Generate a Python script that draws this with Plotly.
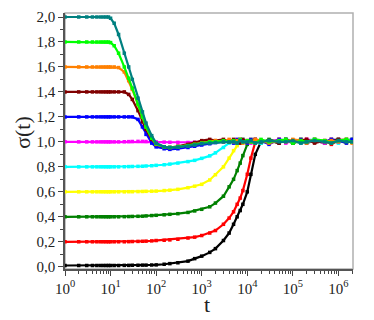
import plotly.graph_objects as go

# time points (shared by all runs)
t = [1, 2, 3, 4, 5, 6, 7, 8, 9, 10,
     12, 15, 20, 25, 30, 40, 50, 60, 80, 100,
     150, 200, 300, 500, 700, 1000, 1500, 2000, 3000, 4000,
     5000, 6000, 7000, 8000, 1e4, 1.2e4, 1.5e4, 2e4, 3e4, 5e4,
     7e4, 1e5, 1.5e5, 2e5, 3e5, 5e5, 7e5, 1e6, 1.5e6, 2e6]

s00 = [0.01] * 10 + [
    0.01, 0.01, 0.011, 0.011, 0.012, 0.012, 0.013, 0.013, 0.014, 0.015,
    0.02, 0.025, 0.032, 0.045, 0.065, 0.085, 0.115, 0.145, 0.21, 0.27,
    0.34, 0.40, 0.45, 0.50, 0.60, 0.74, 0.90, 1.0, 1.01, 0.99,
    1.02, 0.99, 1.01, 1.0, 1.02, 0.99, 1.01, 1.02, 1.0, 1.01]
s02 = [0.2] * 10 + [
    0.2, 0.2, 0.2, 0.201, 0.202, 0.203, 0.204, 0.205, 0.207, 0.21,
    0.212, 0.215, 0.22, 0.23, 0.237, 0.25, 0.27, 0.29, 0.34, 0.39,
    0.44, 0.50, 0.55, 0.61, 0.74, 0.87, 1.0, 1.01, 0.99, 1.02,
    1.0, 1.01, 0.99, 1.02, 1.0, 1.01, 0.98, 1.01, 1.02, 1.0]
s04 = [0.4] * 10 + [
    0.4, 0.4, 0.401, 0.402, 0.403, 0.404, 0.405, 0.407, 0.41, 0.412,
    0.416, 0.42, 0.425, 0.435, 0.447, 0.46, 0.48, 0.51, 0.565, 0.64,
    0.70, 0.77, 0.83, 0.89, 0.98, 1.0, 1.01, 0.99, 1.02, 1.0,
    1.01, 0.99, 1.02, 1.0, 1.01, 0.99, 1.02, 1.0, 1.01, 1.02]
s06 = [0.6] * 10 + [
    0.6, 0.6, 0.6, 0.601, 0.601, 0.602, 0.603, 0.604, 0.605, 0.606,
    0.61, 0.613, 0.62, 0.633, 0.645, 0.66, 0.695, 0.737, 0.80, 0.87,
    0.93, 0.97, 1.0, 1.01, 0.99, 1.02, 1.0, 1.01, 0.99, 1.02,
    1.0, 1.01, 1.02, 0.99, 1.01, 1.0, 1.02, 1.01, 0.99, 1.01]
s08 = [0.8] * 10 + [
    0.8, 0.8, 0.801, 0.802, 0.803, 0.804, 0.805, 0.807, 0.809, 0.812,
    0.817, 0.822, 0.83, 0.842, 0.852, 0.868, 0.888, 0.912, 0.955, 0.99,
    1.0, 1.01, 0.99, 1.02, 1.0, 1.01, 1.02, 0.99, 1.01, 1.0,
    1.02, 1.01, 0.99, 1.01, 1.02, 1.0, 1.01, 0.99, 1.02, 1.01]
s10 = [1.0] * 10 + [
    1.0, 1.0, 1.001, 1.002, 1.003, 1.004, 1.004, 1.003, 1.002, 1.0,
    0.998, 0.997, 0.996, 0.995, 0.997, 1.0, 1.003, 1.005, 1.01, 1.0,
    1.01, 0.99, 1.02, 1.0, 1.01, 0.99, 1.02, 1.01, 1.0, 1.02,
    0.99, 1.01, 1.0, 1.02, 1.01, 0.99, 1.02, 1.0, 1.01, 1.0]
s12 = [1.2] * 10 + [
    1.2, 1.2, 1.2, 1.2, 1.2, 1.18, 1.12, 1.06, 0.99, 0.96,
    0.945, 0.94, 0.945, 0.955, 0.965, 0.975, 0.985, 0.995, 1.0, 1.01,
    0.99, 1.02, 1.0, 1.01, 0.99, 1.02, 1.0, 1.01, 0.98, 1.02,
    1.01, 1.0, 1.02, 0.99, 1.01, 1.0, 1.02, 1.01, 0.99, 1.02]
s14 = [1.4] * 10 + [
    1.4, 1.4, 1.4, 1.38, 1.34, 1.25, 1.16, 1.10, 1.02, 0.98,
    0.96, 0.955, 0.965, 0.98, 0.995, 1.01, 1.02, 1.01, 1.02, 1.0,
    1.02, 1.01, 0.99, 1.02, 1.0, 1.01, 1.02, 1.0, 1.01, 0.99,
    1.02, 1.0, 1.01, 1.02, 0.99, 1.01, 1.0, 1.02, 1.01, 1.0]
s16 = [1.6] * 10 + [
    1.6, 1.595, 1.56, 1.49, 1.42, 1.30, 1.20, 1.12, 1.03, 0.98,
    0.96, 0.955, 0.96, 0.97, 0.98, 0.99, 1.0, 1.01, 1.0, 1.02,
    1.0, 1.01, 1.02, 0.99, 1.01, 1.0, 1.02, 1.01, 0.99, 1.01,
    1.0, 1.02, 1.01, 0.99, 1.02, 1.0, 1.01, 1.0, 1.02, 0.99]
s18 = [1.8] * 9 + [1.795] + [
    1.77, 1.71, 1.60, 1.51, 1.43, 1.30, 1.20, 1.12, 1.03, 0.985,
    0.96, 0.955, 0.96, 0.97, 0.98, 0.99, 1.0, 1.0, 1.01, 1.0,
    1.01, 0.99, 1.02, 1.0, 1.01, 1.0, 0.99, 1.02, 1.0, 1.01,
    1.02, 0.99, 1.01, 1.0, 1.02, 1.01, 0.99, 1.01, 1.02, 1.0]
s20 = [2.0] * 9 + [1.99] + [
    1.95, 1.86, 1.71, 1.60, 1.50, 1.35, 1.24, 1.15, 1.05, 0.99,
    0.96, 0.955, 0.958, 0.965, 0.975, 0.985, 0.99, 0.995, 1.0, 1.0,
    1.0, 0.99, 1.01, 1.0, 1.0, 1.01, 0.99, 1.0, 1.01, 1.0,
    1.0, 1.01, 0.99, 1.0, 1.01, 1.0, 0.99, 1.01, 1.0, 1.0]

runs = [s00, s02, s04, s06, s08, s10, s12, s14, s16, s18, s20]
colors = ["#000000", "#FF0000", "#008000", "#FFFF00", "#00FFFF", "#FF00FF",
          "#0000FF", "#800000", "#FF8000", "#00FF00", "#008080"]

FONT = "Liberation Serif"

fig = go.Figure()
for ys, c in zip(runs, colors):
    fig.add_trace(go.Scatter(
        x=t, y=ys, mode="lines+markers",
        line=dict(color=c, width=2.2),
        marker=dict(color=c, size=3.5, symbol="square"),
        showlegend=False,
    ))

fig.update_layout(
    width=374, height=320,
    margin=dict(l=65, r=21, t=9, b=51),
    paper_bgcolor="white", plot_bgcolor="white",
    font=dict(family=FONT, color="#222", size=15),
    separators=",.",
    shapes=[dict(type="rect", xref="paper", yref="paper", x0=0, y0=0, x1=1, y1=1,
                 line=dict(color="#b0b0b0", width=1.5), layer="below")],
    annotations=[
        dict(text="σ(t)", xref="paper", yref="paper", x=-0.15, y=0.535,
             xanchor="center", yanchor="middle",
             textangle=-90, showarrow=False, font=dict(size=22, family=FONT)),
        dict(text="t", xref="paper", yref="paper", x=0.493, y=-0.14,
             xanchor="center", yanchor="middle",
             showarrow=False, font=dict(size=22, family=FONT)),
    ],
)
fig.update_xaxes(
    type="log", range=[0, 6.32],
    tickvals=[1, 10, 100, 1e3, 1e4, 1e5, 1e6],
    ticktext=[f"10<sup>{k}</sup>" for k in range(7)],
    ticks="outside", ticklen=5, tickcolor="#444",
    minor=dict(ticks="outside", ticklen=3, dtick="D1", tickcolor="#444"),
    showline=True, linecolor="#555", linewidth=1.5,
    showgrid=False, zeroline=False,
)
fig.update_yaxes(
    range=[-0.018, 2.032], tick0=0, dtick=0.2, tickformat=".1f",
    ticks="outside", ticklen=5, tickcolor="#444",
    minor=dict(ticks="outside", ticklen=3, dtick=0.1, tickcolor="#444"),
    showline=True, linecolor="#555", linewidth=1.5,
    showgrid=False, zeroline=False,
)

# drop the browser's default page margin so the chart sits at the corner
fig.write_html("out.html", config={"displayModeBar": False},
               post_script="document.body.style.margin='0';")
